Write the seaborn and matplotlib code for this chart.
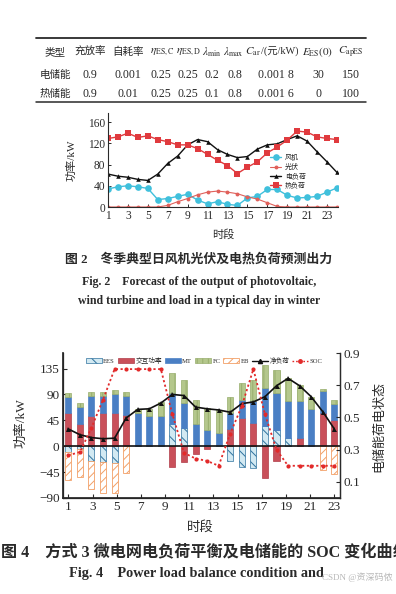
import numpy as np
import matplotlib
matplotlib.use("Agg")
import matplotlib.pyplot as plt
import seaborn as sns
from matplotlib.patches import Patch
from matplotlib.lines import Line2D

# ---- table 1 (storage parameters) ----
table_head = ["类型", "充放率", "自耗率", r"$\eta_{\mathrm{ES,C}}$", r"$\eta_{\mathrm{ES,D}}$",
              r"$\lambda_{\min}$", r"$\lambda_{\max}$", r"$C_{\mathrm{ar}}$",
              r"$E_{\mathrm{ES}}(0)$", r"$C_{\mathrm{apES}}$"]
row_ees = ["电储能", "0.9", "0.001", "0.25", "0.25", "0.2", "0.8", "0.001 8", "30", "150"]
row_tes = ["热储能", "0.9", "0.01", "0.25", "0.25", "0.1", "0.8", "0.001 6", "0", "100"]

# ---- fig 2: forecast of a typical winter day ----
hours = np.arange(1, 25)
wind = [34, 38, 40, 38, 35, 14, 16, 20, 24, 13, 6, 10, 5, 3, 17, 20, 33, 33, 22, 17, 18, 20, 28, 36]
pv = [0, 0, 0, 0, 0, 0, 3, 10, 16, 23, 28, 30, 28, 25, 19, 15, 8, 1, 0, 0, 0, 0, 0, 0]
e_load = [62, 58, 56, 52, 50, 62, 82, 96, 117, 127, 123, 108, 99, 93, 95, 109, 117, 119, 127, 134, 124, 104, 85, 65]
h_load = [129, 132, 139, 131, 134, 127, 123, 117, 117, 110, 99, 88, 78, 63, 75, 85, 102, 113, 126, 143, 141, 132, 129, 127]
fig2_labels = ["风机", "光伏", "电负荷", "热负荷"]

# ---- fig 4: power balance of mode 3 ----
slots = np.arange(1, 25)
ees = [-10, -5, -25, -28, -29, 0, 0, 0, 0, 38, 32, 0, 0, 0, -25, -36, -37, 35, 29, 14, 0, 0, 0, 0]
exch = [57, 38, 52, 57, 57, 55, 0, 0, 0, -36, -28, -13, -4, 0, 30, 49, 40, -55, -26, 0, 15, 0, 58, 46]
mt = [29, 30, 35, 30, 34, 33, 58, 52, 53, 55, 43, 39, 29, 23, 27, 31, 38, 66, 64, 64, 63, 64, 38, 28]
fc = [6, 7, 7, 8, 6, 7, 7, 13, 23, 34, 40, 42, 38, 40, 28, 30, 37, 41, 40, 41, 28, 22, 4, 6]
eb = [-49, -48, -50, -53, -53, -46, 0, 0, 0, 0, 0, 0, 0, 0, 0, 0, 0, 0, 0, 0, 0, 0, -41, -49]
net_load = [30, 20, 15, 13, 14, 49, 64, 65, 75, 90, 88, 68, 65, 63, 59, 74, 77, 86, 105, 118, 105, 86, 60, 30]
soc = [0.265, 0.285, 0.435, 0.61, 0.8, 0.8, 0.8, 0.8, 0.8, 0.52, 0.28, 0.245, 0.23, 0.2,
       0.4, 0.57, 0.8, 0.52, 0.3, 0.2, 0.2, 0.2, 0.2, 0.2]

sns.set_theme(style="ticks")
plt.rcParams["font.family"] = ["Liberation Serif", "Noto Sans CJK SC"]
plt.rcParams["mathtext.fontset"] = "stix"
plt.rcParams["hatch.linewidth"] = 0.7
plt.rcParams["axes.unicode_minus"] = True

INK = "#2a2a2a"
W, H = 396, 594
fig = plt.figure(figsize=(W / 100, H / 100), dpi=100)
fig.patch.set_facecolor("white")

# page overlay in pixel coordinates (table rules and captions)
page = fig.add_axes([0, 0, 1, 1])
page.set_xlim(0, W)
page.set_ylim(H, 0)
page.axis("off")

page.plot([36, 366], [38, 38], color=INK, lw=1.3)
page.plot([36, 366], [102, 102], color=INK, lw=1.1)
head_x = [55, 90, 128, 162, 189, 212, 233, 273, 318, 351]
cell_x = [55, 90, 128, 161, 188, 212, 235, 276, 318, 351]
for hx, cx, h, a, b in zip(head_x, cell_x, table_head, row_ees, row_tes):
    hs = 7.6 if not h.startswith("$") else 8.1
    if h.startswith(r"$C_{\mathrm{ar}}"):
        page.text(261, 52, h, ha="right", va="center", fontsize=hs, color=INK)
        page.text(261, 52, "/(元/kW)", ha="left", va="center", fontsize=7.4, color=INK)
    else:
        page.text(hx, 52, h, ha="center", va="center", fontsize=hs, color=INK)
    rs = 7.6 if cx == 55 else 8.6
    page.text(cx, 75, a, ha="center", va="center", fontsize=rs, color=INK)
    page.text(cx, 94, b, ha="center", va="center", fontsize=rs, color=INK)

page.text(199, 259, "图 2\u3000冬季典型日风机光伏及电热负荷预测出力", ha="center", va="center",
          fontsize=9.3, fontweight="bold", color=INK)
page.text(199, 282, "Fig. 2\u2003Forecast of the output of photovoltaic,", ha="center", va="center",
          fontsize=8.6, fontweight="bold", color=INK)
page.text(199, 301, "wind turbine and load in a typical day in winter", ha="center", va="center",
          fontsize=8.6, fontweight="bold", color=INK)
page.text(1, 552, "图 4\u3000方式 3 微电网电负荷平衡及电储能的 SOC 变化曲线", ha="left", va="center",
          fontsize=11.6, fontweight="bold", color=INK)
page.text(196, 574, "Fig. 4\u2003Power load balance condition and", ha="center", va="center",
          fontsize=10.3, fontweight="bold", color=INK)
page.text(393, 577, "CSDN @资深码侬", ha="right", va="center", fontsize=6.5, color="#b8b8b8")

# ---- fig 2 axes ----
ax1 = fig.add_axes([108 / W, 1 - 207 / H, 230 / W, 94 / H])
styles1 = [
    dict(color="#40c0dc", marker="o", markersize=4.8, linewidth=1.0),
    dict(color="#e0605a", marker="o", markersize=2.8, linewidth=0.8),
    dict(color="#111111", marker="^", markersize=3.3, linewidth=1.0),
    dict(color="#e03a3e", marker="s", markersize=4.3, linewidth=1.0),
]
for vals, lab, st in zip([wind, pv, e_load, h_load], fig2_labels, styles1):
    sns.lineplot(x=hours, y=vals, ax=ax1, label=lab, markeredgewidth=0, **st)
ax1.set_xlim(1, 24.1)
ax1.set_ylim(0, 177)
ax1.set_xticks(np.arange(1, 24, 2))
ax1.set_yticks([0, 40, 80, 120, 160])
ax1.tick_params(direction="in", length=2.5, width=0.7, labelsize=8.3, colors=INK, pad=2)
for s in ["top", "right"]:
    ax1.spines[s].set_visible(False)
for s in ["left", "bottom"]:
    ax1.spines[s].set_color(INK)
    ax1.spines[s].set_linewidth(0.8)
ax1.set_ylabel("功率/kW", fontsize=8, color=INK)
ax1.yaxis.set_label_coords(-0.135, 0.5)
ax1.set_xlabel("时段", fontsize=8, color=INK)
ax1.xaxis.set_label_coords(0.5, -0.24)
ax1.legend(loc="center left", bbox_to_anchor=(0.69, 0.38), frameon=False, fontsize=5,
           handlelength=1.6, handletextpad=0.5, labelspacing=0.35, borderpad=0)

# ---- fig 4 axes ----
ax2 = fig.add_axes([63 / W, 1 - 498 / H, 277 / W, 145 / H])
idx = np.arange(len(slots))
bar_styles = {
    "EES": dict(facecolor="#d2e9f2", edgecolor="#2f729e", hatch="\\\\\\", linewidth=0.5),
    "交互功率": dict(facecolor="#c9505a", edgecolor="#b03c48", linewidth=0.5),
    "MT": dict(facecolor="#4a7fc4", edgecolor="#4a7fc4", linewidth=0.5),
    "FC": dict(facecolor="#b4c78c", edgecolor="#97ad6c", hatch="|||", linewidth=0.5),
    "EB": dict(facecolor="white", edgecolor="#f2a068", hatch="////", linewidth=0.6),
}
pos_base = np.zeros(len(idx))
neg_base = np.zeros(len(idx))
for name, vals in [("EES", ees), ("交互功率", exch), ("MT", mt), ("FC", fc), ("EB", eb)]:
    v = np.asarray(vals, dtype=float)
    p = np.clip(v, 0, None)
    n = np.clip(v, None, 0)
    m = p > 0
    ax2.bar(idx[m], p[m], bottom=pos_base[m], width=0.52, **bar_styles[name])
    m = n < 0
    ax2.bar(idx[m], n[m], bottom=neg_base[m], width=0.52, **bar_styles[name])
    pos_base += p
    neg_base += n

ax2.axhline(0, color="#111111", lw=1.2, zorder=3)
sns.lineplot(x=idx, y=net_load, ax=ax2, color="#111111", marker="^", markersize=3.6,
             markeredgewidth=0, linewidth=1.2, zorder=5)
ax2.set_xlim(-0.46, 23.49)
ax2.set_ylim(-90, 162)
ax2.set_yticks([-90, -45, 0, 45, 90, 135])
ax2.set_xticks(np.linspace(0, 23, 12))
ax2.set_xticklabels([str(k) for k in range(1, 24, 2)])
ax2.tick_params(direction="in", length=3, width=0.8, labelsize=9.5, colors=INK, pad=2.5)
ax2.spines["top"].set_visible(False)
for s in ["left", "bottom", "right"]:
    ax2.spines[s].set_color(INK)
    ax2.spines[s].set_linewidth(0.9)
ax2.set_ylabel("功率/kW", fontsize=9.6, color=INK)
ax2.yaxis.set_label_coords(-0.13, 0.52)
ax2.set_xlabel("时段", fontsize=9.6, color=INK)
ax2.xaxis.set_label_coords(0.495, -0.16)

axr = ax2.twinx()
sns.lineplot(x=idx, y=soc, ax=axr, color="#e22a2a", linestyle=(0, (1.2, 1.4)), marker="o",
             markersize=3.0, markeredgewidth=0, linewidth=1.3)
axr.set_ylim(0, 0.9)
axr.set_yticks([0.1, 0.3, 0.5, 0.7, 0.9])
axr.tick_params(direction="in", length=3, width=0.8, labelsize=9.5, colors=INK, pad=2.5)
axr.spines["top"].set_visible(False)
axr.spines["right"].set_color(INK)
axr.spines["right"].set_linewidth(0.9)
axr.set_ylabel("电储能荷电状态", fontsize=9.4, color=INK)
axr.yaxis.set_label_coords(1.12, 0.49)
axr.grid(False)
ax2.grid(False)

handles = [Patch(**bar_styles[k], label=k) for k in ["EES", "交互功率", "MT", "FC", "EB"]]
handles.append(Line2D([], [], color="#111111", marker="^", markersize=3, lw=1.0, label="净负荷"))
handles.append(Line2D([], [], color="#e22a2a", marker="o", markersize=2.5, lw=1.0,
                      linestyle=(0, (1.2, 1.4)), label="SOC"))
axr.legend(handles=handles, loc="center", bbox_to_anchor=(0.51, 0.947), ncol=7, frameon=False,
           fontsize=4.8, handlelength=2.4, handleheight=0.8, handletextpad=0.2,
           columnspacing=0.45, borderpad=0)

fig.savefig("out.png", dpi=100)
